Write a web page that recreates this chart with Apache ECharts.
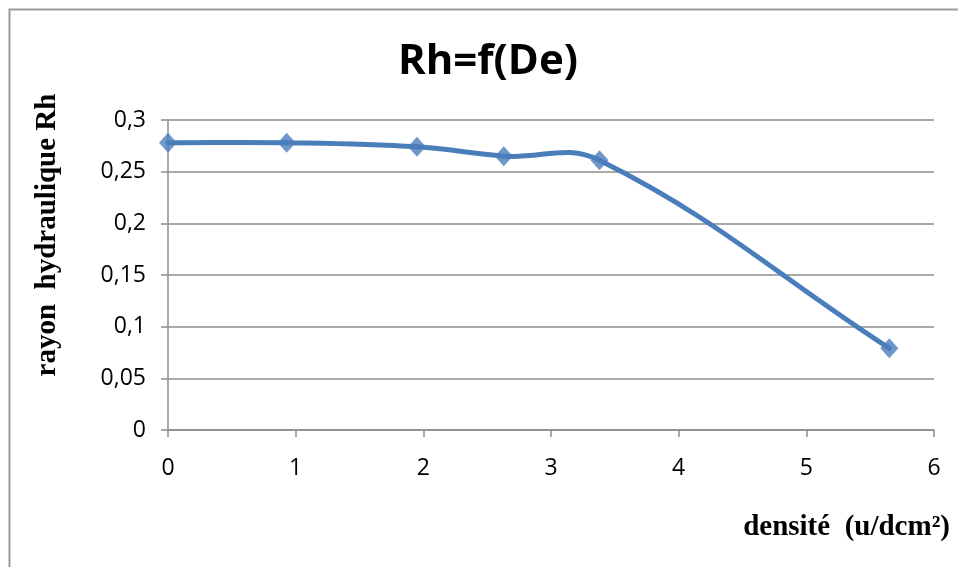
<!DOCTYPE html>
<html>
<head>
<meta charset="utf-8">
<script src="https://cdn.jsdelivr.net/npm/echarts@6/dist/echarts.min.js"></script>
<style>
  html, body { margin: 0; padding: 0; background: #fff; }
  #chart { width: 958px; height: 567px; }
</style>
</head>
<body>
<div id="chart"></div>
<script>
// Hydraulic radius Rh as a function of density De
const densite = [0, 0.93, 1.95, 2.63, 3.38, 5.65];
const rayonRh = [0.278, 0.278, 0.274, 0.265, 0.261, 0.079];
const xTicks = [0, 1, 2, 3, 4, 5, 6];
const yTicks = [0, 0.05, 0.1, 0.15, 0.2, 0.25, 0.3];

const LINE_COLOR = '#4a7ebb';
const GRID_COLOR = '#8c8c8c';
const SMOOTH = 0.4;
const fmt = v => String(v).replace('.', ',');
const points = densite.map((x, i) => [x, rayonRh[i]]);

// Smoothed segment between point i and i+1. Tangents run along the
// neighbour-to-neighbour direction, split by adjacent segment lengths
// (pixel space), without clamping so the curve may overshoot.
function renderSegment(params, api) {
  const i = params.dataIndex;
  const n = points.length;
  if (i >= n - 1) return null;
  const P = j => api.coord(points[Math.max(0, Math.min(n - 1, j))]);
  const p0 = P(i - 1), p1 = P(i), p2 = P(i + 1), p3 = P(i + 2);
  const dist = (a, b) => Math.hypot(b[0] - a[0], b[1] - a[1]);
  const d01 = dist(p0, p1), d12 = dist(p1, p2), d23 = dist(p2, p3);
  const r1 = (d01 + d12) ? d12 / (d01 + d12) : 0;
  const r2 = (d12 + d23) ? d12 / (d12 + d23) : 0;
  return {
    type: 'bezierCurve',
    shape: {
      x1: p1[0], y1: p1[1],
      cpx1: p1[0] + (p2[0] - p0[0]) * SMOOTH * r1,
      cpy1: p1[1] + (p2[1] - p0[1]) * SMOOTH * r1,
      cpx2: p2[0] - (p3[0] - p1[0]) * SMOOTH * r2,
      cpy2: p2[1] - (p3[1] - p1[1]) * SMOOTH * r2,
      x2: p2[0], y2: p2[1]
    },
    style: { stroke: LINE_COLOR, lineWidth: 5, fill: null, lineCap: 'round' }
  };
}

const chart = echarts.init(document.getElementById('chart'));
chart.setOption({
  animation: false,
  backgroundColor: '#ffffff',
  graphic: [
    {
      type: 'rect',
      shape: { x: 9.5, y: 9.5, width: 960, height: 570 },
      style: { fill: 'none', stroke: '#9a9a9a', lineWidth: 2 }
    },
    {
      type: 'text', x: 48, y: 235, rotation: Math.PI / 2,
      style: {
        text: 'rayon  hydraulique Rh', align: 'center', verticalAlign: 'middle',
        font: 'bold 29px "Liberation Serif"', fill: '#000'
      }
    },
    {
      type: 'text', x: 950, y: 528,
      style: {
        text: 'densité  (u/dcm²)', align: 'right', verticalAlign: 'middle',
        font: 'bold 29px "Liberation Serif"', fill: '#000'
      }
    }
  ],
  title: {
    text: 'Rh=f(De)',
    left: 483, top: 36, textAlign: 'center',
    textStyle: { fontFamily: 'Open Sans', fontWeight: 'bold', fontSize: 42, color: '#000' }
  },
  grid: { left: 168, right: 24, top: 120, bottom: 137 },
  xAxis: {
    type: 'value',
    min: xTicks[0], max: xTicks[xTicks.length - 1], interval: 1,
    axisLine: { lineStyle: { color: GRID_COLOR, width: 1.5 } },
    axisTick: { show: true, length: 7, lineStyle: { color: GRID_COLOR, width: 1.5 } },
    axisLabel: { margin: 27, fontFamily: 'Open Sans', fontSize: 23, color: '#000', formatter: fmt },
    splitLine: { show: false }
  },
  yAxis: {
    type: 'value',
    min: yTicks[0], max: yTicks[yTicks.length - 1], interval: 0.05,
    axisLine: { show: true, lineStyle: { color: GRID_COLOR, width: 1.5 } },
    axisTick: { show: true, length: 7, lineStyle: { color: GRID_COLOR, width: 1.5 } },
    axisLabel: { margin: 22, fontFamily: 'Open Sans', fontSize: 23, color: '#000', formatter: fmt },
    splitLine: { show: true, lineStyle: { color: GRID_COLOR, width: 1.5 } }
  },
  series: [
    {
      type: 'custom',
      data: points,
      encode: { x: 0, y: 1 },
      renderItem: renderSegment,
      z: 2
    },
    {
      type: 'scatter',
      data: points,
      symbol: 'diamond',
      symbolSize: [18, 20],
      itemStyle: { color: LINE_COLOR },
      z: 3
    }
  ]
});
</script>
</body>
</html>
